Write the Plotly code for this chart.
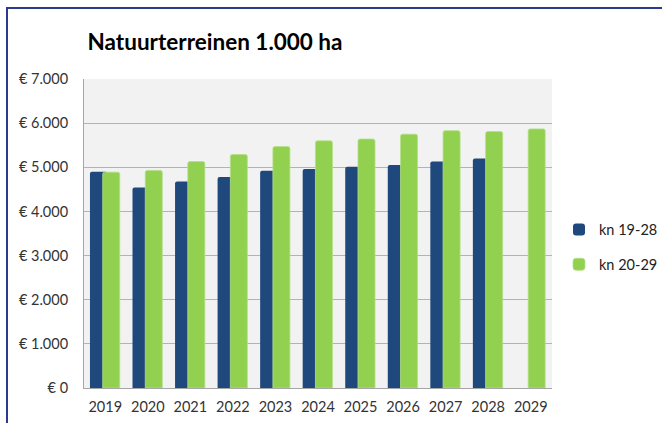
import plotly.graph_objects as go

years = ["2019", "2020", "2021", "2022", "2023", "2024", "2025", "2026", "2027", "2028", "2029"]
kn_19_28 = [4900, 4540, 4680, 4780, 4920, 4960, 5010, 5050, 5130, 5200, None]
kn_20_29 = [4890, 4930, 5130, 5290, 5470, 5600, 5640, 5750, 5830, 5810, 5870]
tick_vals = [0, 1000, 2000, 3000, 4000, 5000, 6000, 7000]
tick_text = ["€ 0", "€ 1.000", "€ 2.000", "€ 3.000", "€ 4.000", "€ 5.000", "€ 6.000", "€ 7.000"]

BLUE = "#1F497D"
GREEN = "#92D050"
FONT = "Lato, Carlito, Calibri, sans-serif"

fig = go.Figure()
fig.add_trace(go.Bar(
    x=years, y=kn_19_28, name="kn 19-28",
    marker=dict(color=BLUE, line=dict(width=0), cornerradius=2),
    width=0.40, offset=-0.36, legendgroup="a",
))
fig.add_trace(go.Bar(
    x=years, y=kn_20_29, name="kn 20-29",
    marker=dict(color=GREEN, line=dict(width=0.8, color="#B5E08A"), cornerradius=2),
    width=0.40, offset=-0.06, legendgroup="b",
))

L, R, T, B = 84, 110, 79, 35
W, H = 662, 423
pw, ph = W - L - R, H - T - B

def px2x(px):
    return (px - L) / pw

def py2y(py):
    return (H - B - py) / ph

fig.update_layout(
    width=W, height=H,
    margin=dict(l=L, r=R, t=T, b=B, pad=0, autoexpand=False),
    barmode="overlay",
    paper_bgcolor="white",
    plot_bgcolor="#F2F2F2",
    font=dict(family=FONT, size=14, color="#333333"),
    showlegend=True,
    title=dict(
        text="<b>Natuurterreinen 1.000 ha</b>",
        font=dict(family=FONT, size=22.5, color="#000000"),
        x=215 / W, xanchor="center",
        y=1 - 42 / H, yanchor="middle",
    ),
    legend=dict(
        x=px2x(559), xanchor="left",
        y=py2y(247), yanchor="middle",
        font=dict(family=FONT, size=14.5, color="#222222"),
        tracegroupgap=13,
        itemwidth=30,
        bgcolor="rgba(0,0,0,0)",
        itemclick=False,
    ),
    xaxis=dict(
        type="category",
        showgrid=False,
        showline=True, linecolor="#A6A6A6", linewidth=1,
        ticks="", ticklabelstandoff=6,
        tickfont=dict(family=FONT, size=14.5, color="#333333"),
        range=[-0.5, 10.5],
        fixedrange=True,
    ),
    yaxis=dict(
        range=[0, 7000],
        tickvals=tick_vals, ticktext=tick_text,
        showgrid=True, gridcolor="#B3B3B3", gridwidth=1,
        showline=True, linecolor="#A6A6A6", linewidth=1,
        zeroline=False,
        ticks="", ticklabelstandoff=12,
        tickfont=dict(family=FONT, size=14.5, color="#333333"),
        fixedrange=True,
    ),
    shapes=[
        dict(type="line", xref="paper", yref="paper",
             x0=px2x(7), x1=px2x(7), y0=py2y(8), y1=py2y(430),
             line=dict(color="#2B3A8C", width=2)),
        dict(type="line", xref="paper", yref="paper",
             x0=px2x(6), x1=px2x(670), y0=py2y(8), y1=py2y(8),
             line=dict(color="#2B3A8C", width=2)),
    ],
)

fig.write_html(
    "out.html",
    config={"displayModeBar": False},
    post_script="document.body.style.margin='0px';document.body.style.overflow='hidden';",
)
